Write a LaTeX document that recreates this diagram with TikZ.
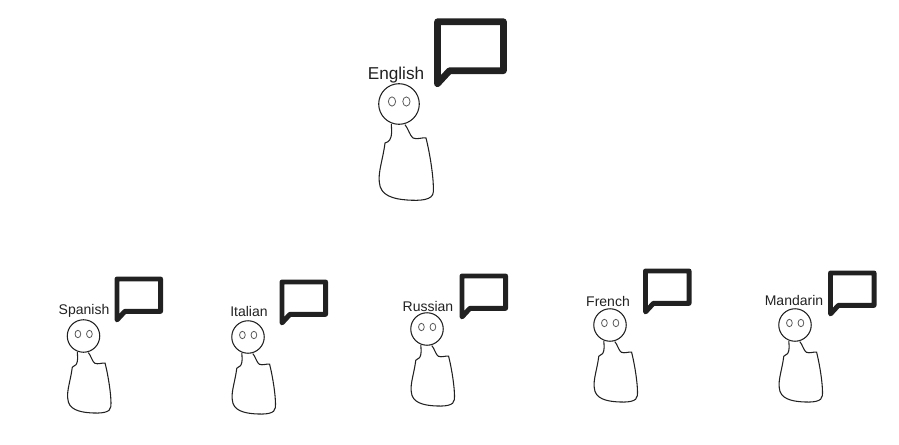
\documentclass[tikz,border=0pt]{standalone}
\usepackage{fontspec}
\setmainfont{Liberation Sans}
\definecolor{inkdark}{rgb}{0.13,0.13,0.13}
\definecolor{inkgrey}{rgb}{0.35,0.35,0.35}
\tikzset{
	outline/.style={line width=0.8pt,color=inkdark},
	eye/.style={line width=0.6pt,color=inkgrey},
	bubble/.style={color=inkdark,line join=round,line cap=round},
	biglabel/.style={font=\fontsize{12.9pt}{15pt}\selectfont,color=inkdark},
	smalllabel/.style={font=\fontsize{10.5pt}{12pt}\selectfont,color=inkdark}
}
% head at (#1,#2), scale #3
\newcommand{\figurine}[3]{
	\begin{scope}[shift={(#1,#2)},scale=#3]
		\draw [outline] (0,0) circle (20.3);
		\draw [eye] (-7,-2.5) ellipse (3.6 and 4.6);
		\draw [eye] (7.4,-2.5) ellipse (3.6 and 4.6);
		\draw [outline] (-7.7,20) -- (-7.3,28) .. controls (-7.5,35) and (-10,38) .. (-14,39)
			.. controls (-16,55) and (-21,68) .. (-19.7,78)
			.. controls (-19,92) and (-5,95) .. (8,96)
			.. controls (22,97) and (34,96) .. (34.3,88)
			.. controls (35,75) and (31,50) .. (27,34)
			.. controls (24,33) and (18,36) .. (14,34)
			.. controls (11,32) and (9,24) .. (6,20.7);
	\end{scope}
}
% speech box at (#1,#2), scale #3, stroke #4
\newcommand{\speechbox}[4]{
	\begin{scope}[shift={(#1,#2)},scale=#3]
		\draw [bubble,line width=#4] (0,62) -- (0,0) -- (66,0) -- (66,49) -- (12,49) -- cycle;
	\end{scope}
}

\begin{document}
\begin{tikzpicture}[x=0.75pt,y=-0.75pt]
	\useasboundingbox (0,0) rectangle (899,445);

	\figurine{399}{104}{1}
	\speechbox{437.5}{21.7}{1}{5pt}
	\node [biglabel] (english) at (396,75.5) {English};

	\figurine{83.5}{336}{0.8}
	\speechbox{117}{279}{0.66}{3.7pt}
	\node [smalllabel] (spanish) at (84,310.5) {Spanish};

	\figurine{248}{337}{0.8}
	\speechbox{282}{282}{0.66}{3.7pt}
	\node [smalllabel] (italian) at (249,311.5) {Italian};

	\figurine{427}{329}{0.8}
	\speechbox{462}{276}{0.66}{3.7pt}
	\node [smalllabel] (russian) at (428,306) {Russian};

	\figurine{610}{325}{0.8}
	\speechbox{645.5}{271}{0.66}{3.7pt}
	\node [smalllabel] (french) at (608,301.5) {French};

	\figurine{795}{325}{0.8}
	\speechbox{830.5}{273}{0.66}{3.7pt}
	\node [smalllabel] (mandarin) at (794,300.5) {Mandarin};
\end{tikzpicture}
\end{document}
